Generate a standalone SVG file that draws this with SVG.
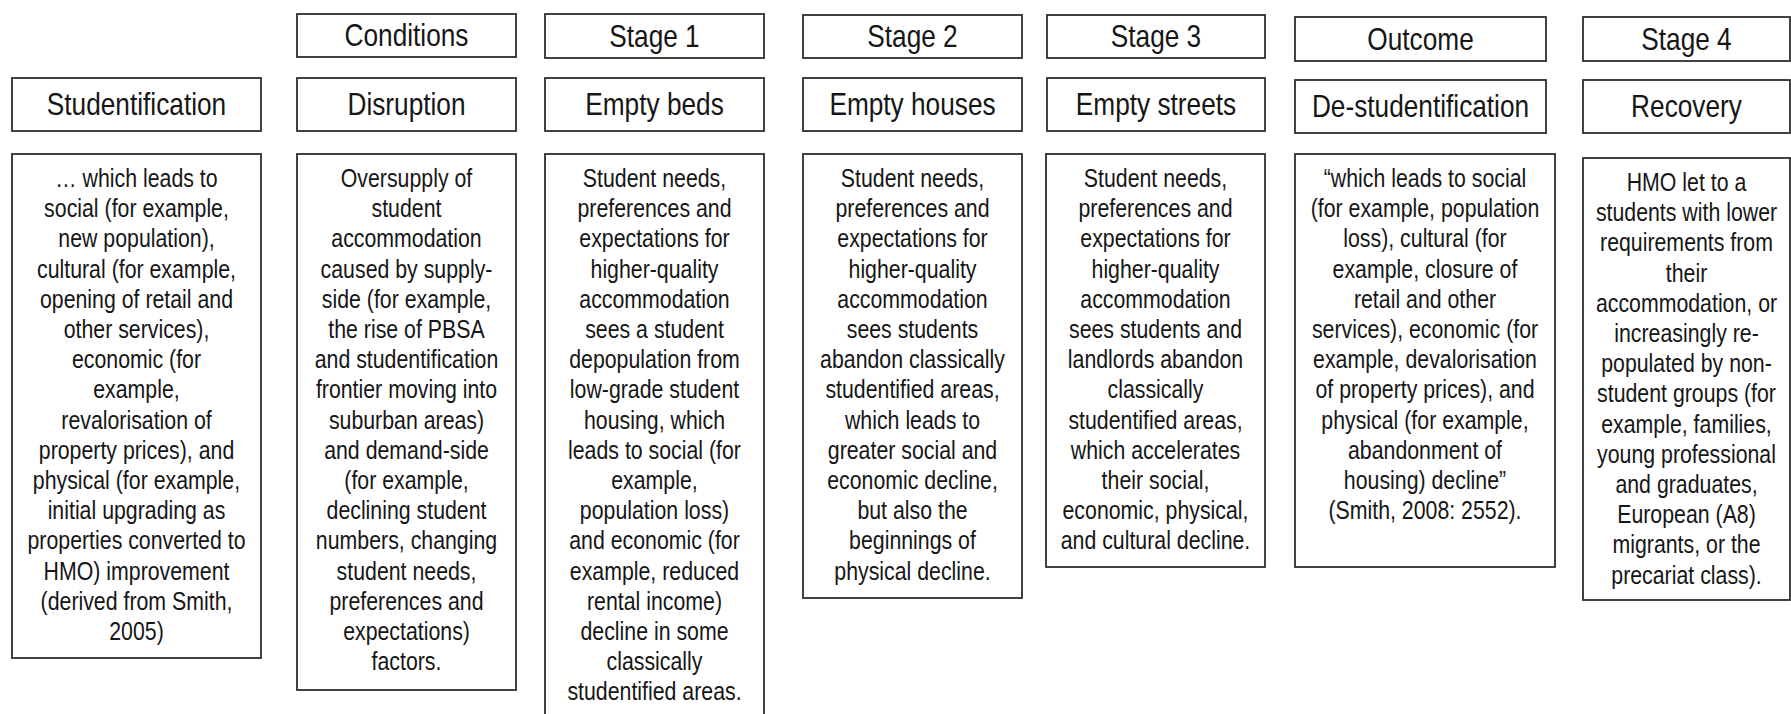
<svg xmlns="http://www.w3.org/2000/svg" width="1791" height="714" viewBox="0 0 1791 714">
<style>
rect.b{fill:#fff;stroke:#2e2e2e;stroke-width:1.8}
text{font-family:"Liberation Sans",Arial,sans-serif;fill:#161616;text-anchor:middle}
text.h{font-size:32px}
text.t{font-size:26px}
</style>
<rect width="1791" height="714" fill="#fff"/>
<g id="connectors"/>
<!-- Column 0 -->
<g id="studentification">
<rect class="b" x="12" y="78" width="249" height="53"/>
<text class="h" transform="translate(136.5 0) scale(0.82 1)" y="115">Studentification</text>
</g>
<g id="studentification-text">
<rect class="b" x="12" y="154" width="249" height="504"/>
<text class="t" transform="translate(136.5 0) scale(0.82 1)" y="187"><tspan x="0">… which leads to</tspan><tspan x="0" dy="30.2">social (for example,</tspan><tspan x="0" dy="30.2">new population),</tspan><tspan x="0" dy="30.2">cultural (for example,</tspan><tspan x="0" dy="30.2">opening of retail and</tspan><tspan x="0" dy="30.2">other services),</tspan><tspan x="0" dy="30.2">economic (for</tspan><tspan x="0" dy="30.2">example,</tspan><tspan x="0" dy="30.2">revalorisation of</tspan><tspan x="0" dy="30.2">property prices), and</tspan><tspan x="0" dy="30.2">physical (for example,</tspan><tspan x="0" dy="30.2">initial upgrading as</tspan><tspan x="0" dy="30.2">properties converted to</tspan><tspan x="0" dy="30.2">HMO) improvement</tspan><tspan x="0" dy="30.2">(derived from Smith,</tspan><tspan x="0" dy="30.2">2005)</tspan></text>
</g>
<!-- Column 1 -->
<g id="conditions">
<rect class="b" x="297" y="14" width="219" height="43"/>
<text class="h" transform="translate(406.5 0) scale(0.82 1)" y="46">Conditions</text>
</g>
<g id="disruption">
<rect class="b" x="297" y="78" width="219" height="53"/>
<text class="h" transform="translate(406.5 0) scale(0.82 1)" y="115">Disruption</text>
</g>
<g id="disruption-text">
<rect class="b" x="297" y="154" width="219" height="536"/>
<text class="t" transform="translate(406.5 0) scale(0.82 1)" y="187"><tspan x="0">Oversupply of</tspan><tspan x="0" dy="30.2">student</tspan><tspan x="0" dy="30.2">accommodation</tspan><tspan x="0" dy="30.2">caused by supply-</tspan><tspan x="0" dy="30.2">side (for example,</tspan><tspan x="0" dy="30.2">the rise of PBSA</tspan><tspan x="0" dy="30.2">and studentification</tspan><tspan x="0" dy="30.2">frontier moving into</tspan><tspan x="0" dy="30.2">suburban areas)</tspan><tspan x="0" dy="30.2">and demand-side</tspan><tspan x="0" dy="30.2">(for example,</tspan><tspan x="0" dy="30.2">declining student</tspan><tspan x="0" dy="30.2">numbers, changing</tspan><tspan x="0" dy="30.2">student needs,</tspan><tspan x="0" dy="30.2">preferences and</tspan><tspan x="0" dy="30.2">expectations)</tspan><tspan x="0" dy="30.2">factors.</tspan></text>
</g>
<!-- Column 2 -->
<g id="stage1">
<rect class="b" x="545" y="14" width="219" height="44"/>
<text class="h" transform="translate(654.5 0) scale(0.82 1)" y="47">Stage 1</text>
</g>
<g id="empty-beds">
<rect class="b" x="545" y="78" width="219" height="53"/>
<text class="h" transform="translate(654.5 0) scale(0.82 1)" y="115">Empty beds</text>
</g>
<g id="empty-beds-text">
<rect class="b" x="545" y="154" width="219" height="580"/>
<text class="t" transform="translate(654.5 0) scale(0.82 1)" y="187"><tspan x="0">Student needs,</tspan><tspan x="0" dy="30.2">preferences and</tspan><tspan x="0" dy="30.2">expectations for</tspan><tspan x="0" dy="30.2">higher-quality</tspan><tspan x="0" dy="30.2">accommodation</tspan><tspan x="0" dy="30.2">sees a student</tspan><tspan x="0" dy="30.2">depopulation from</tspan><tspan x="0" dy="30.2">low-grade student</tspan><tspan x="0" dy="30.2">housing, which</tspan><tspan x="0" dy="30.2">leads to social (for</tspan><tspan x="0" dy="30.2">example,</tspan><tspan x="0" dy="30.2">population loss)</tspan><tspan x="0" dy="30.2">and economic (for</tspan><tspan x="0" dy="30.2">example, reduced</tspan><tspan x="0" dy="30.2">rental income)</tspan><tspan x="0" dy="30.2">decline in some</tspan><tspan x="0" dy="30.2">classically</tspan><tspan x="0" dy="30.2">studentified areas.</tspan></text>
</g>
<!-- Column 3 -->
<g id="stage2">
<rect class="b" x="803" y="15" width="219" height="43"/>
<text class="h" transform="translate(912.5 0) scale(0.82 1)" y="47">Stage 2</text>
</g>
<g id="empty-houses">
<rect class="b" x="803" y="78" width="219" height="53"/>
<text class="h" transform="translate(912.5 0) scale(0.82 1)" y="115">Empty houses</text>
</g>
<g id="empty-houses-text">
<rect class="b" x="803" y="154" width="219" height="444"/>
<text class="t" transform="translate(912.5 0) scale(0.82 1)" y="187"><tspan x="0">Student needs,</tspan><tspan x="0" dy="30.2">preferences and</tspan><tspan x="0" dy="30.2">expectations for</tspan><tspan x="0" dy="30.2">higher-quality</tspan><tspan x="0" dy="30.2">accommodation</tspan><tspan x="0" dy="30.2">sees students</tspan><tspan x="0" dy="30.2">abandon classically</tspan><tspan x="0" dy="30.2">studentified areas,</tspan><tspan x="0" dy="30.2">which leads to</tspan><tspan x="0" dy="30.2">greater social and</tspan><tspan x="0" dy="30.2">economic decline,</tspan><tspan x="0" dy="30.2">but also the</tspan><tspan x="0" dy="30.2">beginnings of</tspan><tspan x="0" dy="30.2">physical decline.</tspan></text>
</g>
<!-- Column 4 -->
<g id="stage3">
<rect class="b" x="1047" y="15" width="218" height="43"/>
<text class="h" transform="translate(1156 0) scale(0.82 1)" y="47">Stage 3</text>
</g>
<g id="empty-streets">
<rect class="b" x="1047" y="78" width="218" height="53"/>
<text class="h" transform="translate(1156 0) scale(0.82 1)" y="115">Empty streets</text>
</g>
<g id="empty-streets-text">
<rect class="b" x="1046" y="154" width="219" height="413"/>
<text class="t" transform="translate(1155.5 0) scale(0.82 1)" y="187"><tspan x="0">Student needs,</tspan><tspan x="0" dy="30.2">preferences and</tspan><tspan x="0" dy="30.2">expectations for</tspan><tspan x="0" dy="30.2">higher-quality</tspan><tspan x="0" dy="30.2">accommodation</tspan><tspan x="0" dy="30.2">sees students and</tspan><tspan x="0" dy="30.2">landlords abandon</tspan><tspan x="0" dy="30.2">classically</tspan><tspan x="0" dy="30.2">studentified areas,</tspan><tspan x="0" dy="30.2">which accelerates</tspan><tspan x="0" dy="30.2">their social,</tspan><tspan x="0" dy="30.2">economic, physical,</tspan><tspan x="0" dy="30.2">and cultural decline.</tspan></text>
</g>
<!-- Column 5 -->
<g id="outcome">
<rect class="b" x="1295" y="17" width="251" height="44"/>
<text class="h" transform="translate(1420.5 0) scale(0.82 1)" y="50">Outcome</text>
</g>
<g id="de-studentification">
<rect class="b" x="1295" y="80" width="251" height="53"/>
<text class="h" transform="translate(1420.5 0) scale(0.82 1)" y="117">De-studentification</text>
</g>
<g id="de-studentification-text">
<rect class="b" x="1295" y="154" width="260" height="413"/>
<text class="t" transform="translate(1425 0) scale(0.82 1)" y="187"><tspan x="0">“which leads to social</tspan><tspan x="0" dy="30.2">(for example, population</tspan><tspan x="0" dy="30.2">loss), cultural (for</tspan><tspan x="0" dy="30.2">example, closure of</tspan><tspan x="0" dy="30.2">retail and other</tspan><tspan x="0" dy="30.2">services), economic (for</tspan><tspan x="0" dy="30.2">example, devalorisation</tspan><tspan x="0" dy="30.2">of property prices), and</tspan><tspan x="0" dy="30.2">physical (for example,</tspan><tspan x="0" dy="30.2">abandonment of</tspan><tspan x="0" dy="30.2">housing) decline”</tspan><tspan x="0" dy="30.2">(Smith, 2008: 2552).</tspan></text>
</g>
<!-- Column 6 -->
<g id="stage4">
<rect class="b" x="1583" y="17" width="207" height="44"/>
<text class="h" transform="translate(1686.5 0) scale(0.82 1)" y="50">Stage 4</text>
</g>
<g id="recovery">
<rect class="b" x="1583" y="80" width="207" height="53"/>
<text class="h" transform="translate(1686.5 0) scale(0.82 1)" y="117">Recovery</text>
</g>
<g id="recovery-text">
<rect class="b" x="1583" y="158" width="207" height="442"/>
<text class="t" transform="translate(1686.5 0) scale(0.82 1)" y="191"><tspan x="0">HMO let to a</tspan><tspan x="0" dy="30.2">students with lower</tspan><tspan x="0" dy="30.2">requirements from</tspan><tspan x="0" dy="30.2">their</tspan><tspan x="0" dy="30.2">accommodation, or</tspan><tspan x="0" dy="30.2">increasingly re-</tspan><tspan x="0" dy="30.2">populated by non-</tspan><tspan x="0" dy="30.2">student groups (for</tspan><tspan x="0" dy="30.2">example, families,</tspan><tspan x="0" dy="30.2">young professional</tspan><tspan x="0" dy="30.2">and graduates,</tspan><tspan x="0" dy="30.2">European (A8)</tspan><tspan x="0" dy="30.2">migrants, or the</tspan><tspan x="0" dy="30.2">precariat class).</tspan></text>
</g>
</svg>
